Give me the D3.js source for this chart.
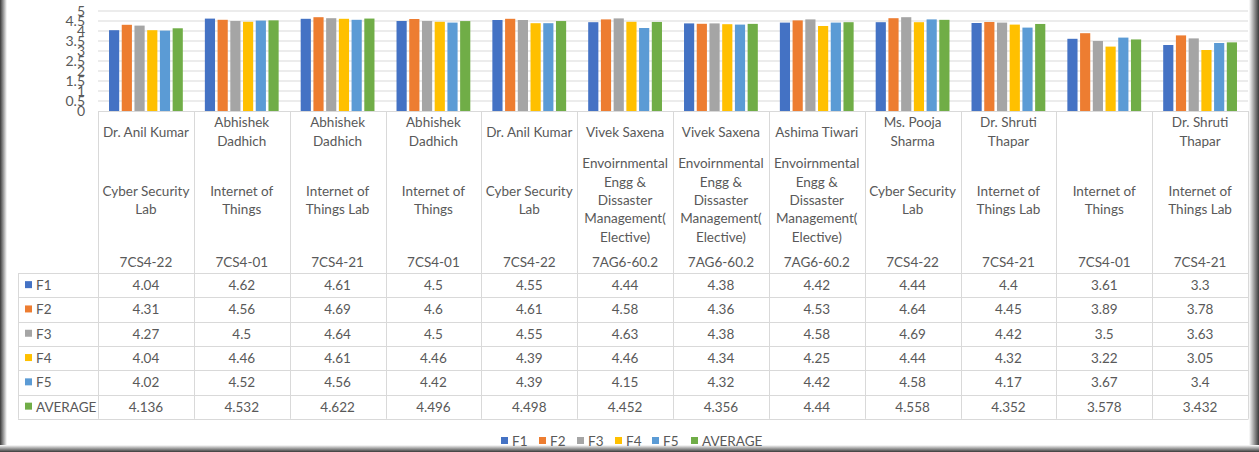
<!DOCTYPE html>
<html>
<head>
    <meta charset="utf-8">
    <script src="https://d3js.org/d3.v7.min.js"></script>
    <style>
        body { margin: 0; background: #fff; }
        text { font-family: 'Lato', 'Open Sans', sans-serif; fill: #595959; }
    </style>
</head>
<body>
<div id="chart"></div>
<script>
    // categories: teacher / subject / code (line breaks as in the sheet)
    var teachers = ["Dr. Anil Kumar", "Abhishek\nDadhich", "Abhishek\nDadhich", "Abhishek\nDadhich",
        "Dr. Anil Kumar", "Vivek Saxena", "Vivek Saxena", "Ashima Tiwari", "Ms. Pooja\nSharma",
        "Dr. Shruti\nThapar", "", "Dr. Shruti\nThapar"];
    var subjects = ["Cyber Security\nLab", "Internet of\nThings", "Internet of\nThings Lab", "Internet of\nThings",
        "Cyber Security\nLab",
        "Envoirnmental\nEngg &\nDissaster\nManagement(\nElective)",
        "Envoirnmental\nEngg &\nDissaster\nManagement(\nElective)",
        "Envoirnmental\nEngg &\nDissaster\nManagement(\nElective)",
        "Cyber Security\nLab", "Internet of\nThings Lab", "Internet of\nThings", "Internet of\nThings Lab"];
    var codes = ["7CS4-22", "7CS4-01", "7CS4-21", "7CS4-01", "7CS4-22", "7AG6-60.2", "7AG6-60.2",
        "7AG6-60.2", "7CS4-22", "7CS4-21", "7CS4-01", "7CS4-21"];

    var seriesNames = ["F1", "F2", "F3", "F4", "F5", "AVERAGE"];
    var F1 = [4.04, 4.62, 4.61, 4.5, 4.55, 4.44, 4.38, 4.42, 4.44, 4.4, 3.61, 3.3];
    var F2 = [4.31, 4.56, 4.69, 4.6, 4.61, 4.58, 4.36, 4.53, 4.64, 4.45, 3.89, 3.78];
    var F3 = [4.27, 4.5, 4.64, 4.5, 4.55, 4.63, 4.38, 4.58, 4.69, 4.42, 3.5, 3.63];
    var F4 = [4.04, 4.46, 4.61, 4.46, 4.39, 4.46, 4.34, 4.25, 4.44, 4.32, 3.22, 3.05];
    var F5 = [4.02, 4.52, 4.56, 4.42, 4.39, 4.15, 4.32, 4.42, 4.58, 4.17, 3.67, 3.4];
    var AVERAGE = [4.136, 4.532, 4.622, 4.496, 4.498, 4.452, 4.356, 4.44, 4.558, 4.352, 3.578, 3.432];
    var yTicks = [0, 0.5, 1, 1.5, 2, 2.5, 3, 3.5, 4, 4.5, 5];

    var seriesValues = [F1, F2, F3, F4, F5, AVERAGE];
    var colors = ["#4472C4", "#ED7D31", "#A5A5A5", "#FFC000", "#5B9BD5", "#70AD47"];

    var W = 1259, H = 452;
    var plotLeft = 98, plotRight = 1248, plotTop = 11, plotBottom = 111;
    var tableLeft = 18, labelBottom = 273, rowH = 24.3;

    var svg = d3.select("#chart").append("svg")
        .attr("width", W).attr("height", H);

    // frame shadow (left, right, bottom edges)
    var defs = svg.append("defs");
    function grad(id, x1, y1, x2, y2) {
        var g = defs.append("linearGradient").attr("id", id)
            .attr("x1", x1).attr("y1", y1).attr("x2", x2).attr("y2", y2);
        g.append("stop").attr("offset", "0%").attr("stop-color", "#3a3a3a");
        g.append("stop").attr("offset", "100%").attr("stop-color", "#ffffff");
    }
    grad("gl", 0, 0, 1, 0);
    grad("gr", 1, 0, 0, 0);
    grad("gb", 0, 1, 0, 0);
    svg.append("rect").attr("width", W).attr("height", H).attr("fill", "#fff");
    svg.append("rect").attr("x", 0).attr("y", 0).attr("width", 7).attr("height", H).attr("fill", "url(#gl)");
    svg.append("rect").attr("x", W - 10).attr("y", 0).attr("width", 10).attr("height", H).attr("fill", "url(#gr)");
    svg.append("rect").attr("x", 0).attr("y", H - 7).attr("width", W).attr("height", 7).attr("fill", "url(#gb)");

    // scales
    var idx = d3.range(codes.length);
    var x0 = d3.scaleBand().domain(idx).range([plotLeft, plotRight])
        .paddingInner(0.23).paddingOuter(0.115);
    var step = (plotRight - plotLeft) / codes.length;
    var x1 = d3.scaleBand().domain(seriesNames).range([0, x0.bandwidth()]).paddingInner(0.2);
    var y = d3.scaleLinear().domain([0, 5]).range([plotBottom, plotTop]);

    // gridlines
    svg.append("g").selectAll("line").data(yTicks.slice(1)).join("line")
        .attr("x1", plotLeft).attr("x2", plotRight)
        .attr("y1", function (d) { return y(d); }).attr("y2", function (d) { return y(d); })
        .attr("stroke", "#d9d9d9").attr("stroke-width", 1);

    // y axis labels
    var yAxis = svg.append("g").attr("transform", "translate(" + (plotLeft - 8) + ",0)")
        .call(d3.axisLeft(y).tickValues(yTicks).tickSize(0).tickFormat(d3.format("")));
    yAxis.select(".domain").remove();
    yAxis.selectAll("text").attr("font-size", 14).style("font-family", "'Lato', sans-serif")
        .attr("fill", "#595959").attr("x", -5);

    // bars
    svg.append("g").selectAll("g").data(seriesValues).join("g")
        .attr("fill", function (d, i) { return colors[i]; })
        .each(function (vals, si) {
            d3.select(this).selectAll("rect").data(vals).join("rect")
                .attr("x", function (v, ci) { return x0(ci) + x1(seriesNames[si]); })
                .attr("width", x1.bandwidth())
                .attr("y", function (v) { return y(v); })
                .attr("height", function (v) { return plotBottom - y(v); });
        });

    // table grid
    var tableBottom = labelBottom + rowH * seriesNames.length;
    var grid = svg.append("g").attr("stroke", "#d9d9d9").attr("stroke-width", 1);
    d3.range(codes.length + 1).forEach(function (i) {
        var xx = Math.round(plotLeft + i * step) + 0.5;
        grid.append("line").attr("x1", xx).attr("x2", xx).attr("y1", plotBottom).attr("y2", tableBottom);
    });
    grid.append("line").attr("x1", tableLeft + 0.5).attr("x2", tableLeft + 0.5)
        .attr("y1", labelBottom).attr("y2", tableBottom);
    d3.range(seriesNames.length + 1).forEach(function (r) {
        var yy = Math.round(labelBottom + r * rowH) + 0.5;
        grid.append("line").attr("x1", tableLeft).attr("x2", plotRight + 0.5).attr("y1", yy).attr("y2", yy);
    });
    // axis line
    svg.append("line").attr("x1", plotLeft).attr("x2", plotRight + 0.5)
        .attr("y1", plotBottom + 0.5).attr("y2", plotBottom + 0.5).attr("stroke", "#d9d9d9");

    // category labels
    var lineH = 18.3;
    function block(g, str, cy) {
        var lines = str.split("\n");
        var top = cy - (lines.length - 1) * lineH / 2;
        lines.forEach(function (ln, k) {
            g.append("text").attr("x", 0).attr("y", top + k * lineH)
                .attr("text-anchor", "middle").attr("dominant-baseline", "central")
                .attr("font-size", 13.5).text(ln);
        });
    }
    idx.forEach(function (i) {
        var g = svg.append("g").attr("transform", "translate(" + (plotLeft + (i + 0.5) * step) + ",0)");
        block(g, teachers[i], 131.5);
        block(g, subjects[i], 200);
        block(g, codes[i], 261.5);
    });

    // table rows
    seriesNames.forEach(function (name, r) {
        var cy = labelBottom + (r + 0.5) * rowH;
        svg.append("rect").attr("x", 25).attr("y", cy - 4).attr("width", 7).attr("height", 7)
            .attr("fill", colors[r]);
        svg.append("text").attr("x", 36).attr("y", cy).attr("dominant-baseline", "central")
            .attr("font-size", 13.5).text(name);
        seriesValues[r].forEach(function (v, i) {
            svg.append("text").attr("x", plotLeft + (i + 0.5) * step).attr("y", cy)
                .attr("text-anchor", "middle").attr("dominant-baseline", "central")
                .attr("font-size", 13.5).text(v);
        });
    });

    // legend
    var legendX = [501, 539, 577, 615, 652, 691];
    var legend = svg.append("g").selectAll("g").data(seriesNames).join("g")
        .attr("transform", function (d, i) { return "translate(" + legendX[i] + ",441)"; });
    legend.append("rect").attr("x", 0).attr("y", -4).attr("width", 7).attr("height", 7)
        .attr("fill", function (d, i) { return colors[i]; });
    legend.append("text").attr("x", 11).attr("y", 0).attr("dominant-baseline", "central")
        .attr("font-size", 13.5).text(function (d) { return d; });
</script>
</body>
</html>
